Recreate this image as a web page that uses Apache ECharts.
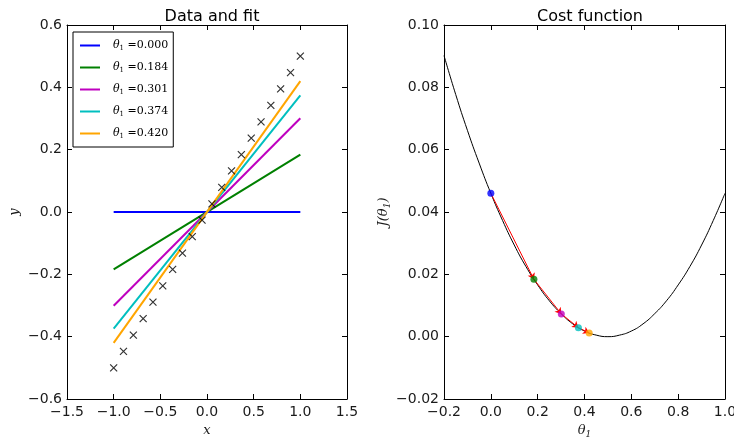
<!DOCTYPE html>
<html><head><meta charset="utf-8">
<script src="https://cdn.jsdelivr.net/npm/echarts@6/dist/echarts.min.js"></script>
<style>html,body{margin:0;padding:0;background:#fff}#c{width:734px;height:439px}</style>
</head><body><div id="c"></div>
<script>
// ---- data ----
const dataX = [-1.0, -0.895, -0.789, -0.684, -0.579, -0.474, -0.368, -0.263, -0.158, -0.053, 0.053, 0.158, 0.263, 0.368, 0.474, 0.579, 0.684, 0.789, 0.895, 1.0];
const dataY = [-0.5, -0.447, -0.395, -0.342, -0.289, -0.237, -0.184, -0.132, -0.079, -0.026, 0.026, 0.079, 0.132, 0.184, 0.237, 0.289, 0.342, 0.395, 0.447, 0.5];
const thetaVals = [0.000, 0.184, 0.301, 0.374, 0.420];
const thetaLabels = ['0.000', '0.184', '0.301', '0.374', '0.420'];
const fitStartX = [-1, -1, -1, -1, -1];
const fitStartY = [0.0, -0.184, -0.301, -0.374, -0.420];
const fitEndX = [1, 1, 1, 1, 1];
const fitEndY = [0.0, 0.184, 0.301, 0.374, 0.420];
const costAtTheta = [0.0460, 0.0184, 0.0073, 0.0029, 0.0012];
const curveTheta = [-0.2, -0.15, -0.1, -0.05, 0.0, 0.05, 0.1, 0.15, 0.2, 0.25, 0.3, 0.35, 0.4, 0.45, 0.5, 0.55, 0.6, 0.65, 0.7, 0.75, 0.8, 0.85, 0.9, 0.95, 1.0];
const curveCost = [0.0902, 0.0777, 0.0662, 0.0557, 0.0460, 0.0373, 0.0294, 0.0225, 0.0166, 0.0115, 0.0074, 0.0041, 0.0018, 0.0005, 0.0, 0.0005, 0.0018, 0.0041, 0.0074, 0.0115, 0.0166, 0.0225, 0.0294, 0.0373, 0.0460];
const leftXTicks = [-1.5, -1.0, -0.5, 0.0, 0.5, 1.0, 1.5];
const leftYTicks = [-0.6, -0.4, -0.2, 0.0, 0.2, 0.4, 0.6];
const rightXTicks = [-0.2, 0.0, 0.2, 0.4, 0.6, 0.8, 1.0];
const rightYTicks = [-0.02, 0.0, 0.02, 0.04, 0.06, 0.08, 0.10];
// ---- styles ----
const colors = ['#0000ff', '#008000', '#bf00bf', '#00bfbf', '#ffa500'];
const txt = '#1a1a1a';
const fmt = (d) => (v) => { let s = Math.abs(v) < 1e-9 ? (0).toFixed(d) : v.toFixed(d); return s.replace('-', '\u2212'); };
const richName = {
  t: {fontSize: 13, fontFamily: 'DejaVu Serif', fontStyle: 'italic', color: txt},
  u: {fontSize: 13, fontFamily: 'DejaVu Serif', color: txt},
  s: {fontSize: 9, fontFamily: 'DejaVu Serif', color: txt, padding: [8, 0, 0, 0]}
};

const chart = echarts.init(document.getElementById('c'), null, {renderer: 'canvas'});

function xAx(grid, ticks, d, name, top, gap) {
  return {
    type: 'value', gridIndex: grid, position: top ? 'top' : 'bottom',
    min: ticks[0], max: ticks[ticks.length - 1],
    interval: +(ticks[1] - ticks[0]).toFixed(4),
    axisLine: {show: true, onZero: false, lineStyle: {color: '#000', width: 1}},
    axisTick: {show: true, inside: true, length: 5, lineStyle: {color: '#000'}},
    axisLabel: {show: !top, color: txt, fontSize: 14, fontFamily: 'DejaVu Sans', margin: 6, formatter: fmt(d)},
    splitLine: {show: false},
    name: top ? '' : name, nameLocation: 'middle', nameGap: gap || 24,
    nameTextStyle: {color: txt, fontSize: 13, fontFamily: 'DejaVu Serif', fontStyle: 'italic', rich: richName}
  };
}
function yAx(grid, ticks, d, name, right, gap) {
  return {
    type: 'value', gridIndex: grid, position: right ? 'right' : 'left',
    min: ticks[0], max: ticks[ticks.length - 1],
    interval: +(ticks[1] - ticks[0]).toFixed(4),
    axisLine: {show: true, onZero: false, lineStyle: {color: '#000', width: 1}},
    axisTick: {show: true, inside: true, length: 5, lineStyle: {color: '#000'}},
    axisLabel: {show: !right, color: txt, fontSize: 14, fontFamily: 'DejaVu Sans', margin: 5, formatter: fmt(d)},
    splitLine: {show: false},
    name: right ? '' : name, nameLocation: 'middle', nameGap: gap || 46, nameRotate: 90,
    nameTextStyle: {color: txt, fontSize: 13, fontFamily: 'DejaVu Serif', fontStyle: 'italic', rich: richName}
  };
}

const series = [];
// fit lines
thetaVals.forEach((t, i) => {
  series.push({
    type: 'line', name: 'th' + i, xAxisIndex: 0, yAxisIndex: 0,
    data: [[fitStartX[i], fitStartY[i]], [fitEndX[i], fitEndY[i]]],
    showSymbol: false, symbol: 'none', lineStyle: {color: colors[i], width: 2}, itemStyle: {color: colors[i]},
    z: 2, animation: false
  });
});
// data markers
series.push({
  type: 'scatter', xAxisIndex: 0, yAxisIndex: 0,
  data: dataX.map((x, i) => [x, dataY[i]]),
  symbol: 'path://M0,0L10,10M10,0L0,10', symbolSize: 7,
  itemStyle: {color: 'rgba(0,0,0,0)', borderColor: '#000', borderWidth: 1.2},
  z: 3, animation: false
});
// cost curve
series.push({
  type: 'line', xAxisIndex: 2, yAxisIndex: 2,
  data: curveTheta.map((t, i) => [t, curveCost[i]]), smooth: true,
  showSymbol: false, symbol: 'none', lineStyle: {color: '#000', width: 1}, z: 2, animation: false
});
// arrows
const arrows = [];
for (let i = 0; i < thetaVals.length - 1; i++) {
  arrows.push({coords: [[thetaVals[i], costAtTheta[i]], [thetaVals[i + 1], costAtTheta[i + 1]]]});
}
series.push({
  type: 'lines', coordinateSystem: 'cartesian2d', xAxisIndex: 2, yAxisIndex: 2,
  data: arrows, symbol: ['none', 'arrow'], symbolSize: 6,
  lineStyle: {color: '#ff0000', width: 1, opacity: 1}, z: 3, animation: false
});
// cost points
series.push({
  type: 'scatter', xAxisIndex: 2, yAxisIndex: 2,
  data: thetaVals.map((t, i) => ({value: [t, costAtTheta[i]], itemStyle: {color: colors[i]}})),
  symbol: 'circle', symbolSize: 7, z: 4, animation: false
});

chart.setOption({
  animation: false,
  backgroundColor: '#fff',
  title: [
    {text: 'Data and fit', left: 207, top: 4, textAlign: 'center', textStyle: {fontSize: 16, fontWeight: 'normal', fontFamily: 'DejaVu Sans', color: '#000'}},
    {text: 'Cost function', left: 585, top: 4, textAlign: 'center', textStyle: {fontSize: 16, fontWeight: 'normal', fontFamily: 'DejaVu Sans', color: '#000'}}
  ],
  grid: [
    {left: 67, top: 25, width: 280, height: 374, containLabel: false, outerBoundsMode: 'none'},
    {left: 444, top: 25, width: 281, height: 374, containLabel: false, outerBoundsMode: 'none'}
  ],
  xAxis: [
    xAx(0, leftXTicks, 1, 'x', false, 25),
    xAx(0, leftXTicks, 1, '', true),
    xAx(1, rightXTicks, 1, '{t|θ}{s|1}', false, 22),
    xAx(1, rightXTicks, 1, '', true)
  ],
  yAxis: [
    yAx(0, leftYTicks, 1, 'y', false, 46),
    yAx(0, leftYTicks, 1, '', true),
    yAx(1, rightYTicks, 2, '{t|J}{u|(}{t|θ}{s|1}{u|)}', false, 49),
    yAx(1, rightYTicks, 2, '', true)
  ],
  legend: {
    data: thetaVals.map((t, i) => 'th' + i),
    orient: 'vertical', left: 73, top: 32,
    backgroundColor: '#fff', borderColor: '#000', borderWidth: 1, borderRadius: 0,
    padding: [8, 5, 7, 7],
    icon: 'rect', itemWidth: 20, itemHeight: 2, itemGap: 10,
    formatter: (n) => '{t|θ}{s|1}{u| =' + thetaLabels[+n.slice(2)] + '}',
    textStyle: {color: '#000', padding: [0, 0, 0, 8],
      rich: {t: {fontSize: 11, fontFamily: 'DejaVu Serif', fontStyle: 'italic', color: '#000'},
             u: {fontSize: 11, fontFamily: 'DejaVu Serif', color: '#000'},
             s: {fontSize: 7, fontFamily: 'DejaVu Serif', color: '#000', padding: [6, 0, 0, 0]}}}
  },
  series: series
});
</script>
</body></html>
